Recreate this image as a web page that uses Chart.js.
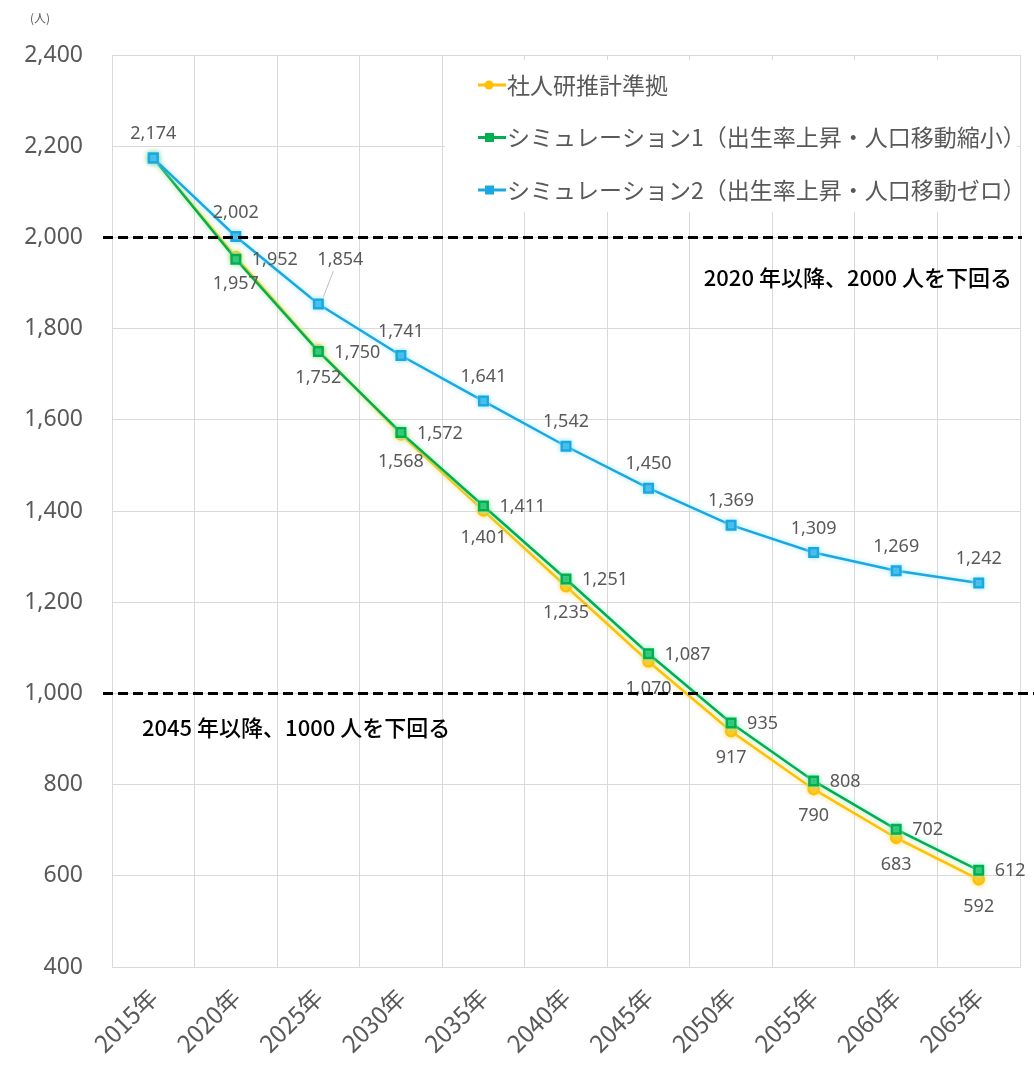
<!DOCTYPE html>
<html lang="ja">
<head>
<meta charset="utf-8">
<script src="https://cdn.jsdelivr.net/npm/chart.js@4.4.1/dist/chart.umd.min.js"></script>
<style>
  html, body { margin: 0; padding: 0; background: #fff; }
  #wrap { width: 1034px; height: 1077px; position: relative; }
</style>
</head>
<body>
<div id="wrap"><canvas id="chart"></canvas></div>
<script>
const years = ['2015年', '2020年', '2025年', '2030年', '2035年', '2040年', '2045年', '2050年', '2055年', '2060年', '2065年'];
const ipssValues = [2174, 1957, 1752, 1568, 1401, 1235, 1070, 917, 790, 683, 592];
const sim1Values = [2174, 1952, 1750, 1572, 1411, 1251, 1087, 935, 808, 702, 612];
const sim2Values = [2174, 2002, 1854, 1741, 1641, 1542, 1450, 1369, 1309, 1269, 1242];
const seriesNames = ['社人研推計準拠', 'シミュレーション1（出生率上昇・人口移動縮小）', 'シミュレーション2（出生率上昇・人口移動ゼロ）'];
const thresholds = [2000, 1000];
const thresholdNotes = ['2020 年以降、2000 人を下回る', '2045 年以降、1000 人を下回る'];
const yTicks = [400, 600, 800, 1000, 1200, 1400, 1600, 1800, 2000, 2200, 2400];
const unitLabel = '(人)';

const FONT = '"Noto Sans CJK JP", "Noto Sans", sans-serif';
const GRAY = '#595959';

// glow under each line, like the office chart it comes from
const lineGlow = {
    id: 'lineGlow',
    beforeDatasetDraw(chart, args) {
        const ds = chart.data.datasets[args.index];
        chart.ctx.save();
        chart.ctx.shadowColor = ds.glowColor;
        chart.ctx.shadowBlur = 5;
    },
    afterDatasetDraw(chart) {
        chart.ctx.restore();
    }
};

// legend box sitting inside the plot, top right
const innerLegend = {
    id: 'innerLegend',
    beforeDatasetsDraw(chart) {
        const ctx = chart.ctx;
        ctx.save();
        ctx.fillStyle = '#fff';
        ctx.fillRect(445, 60, 572, 152);
        ctx.font = '23px ' + FONT;
        ctx.textBaseline = 'middle';
        chart.data.datasets.forEach((ds, i) => {
            const y = 85 + i * 52.5;
            ctx.strokeStyle = ds.borderColor;
            ctx.lineWidth = 3;
            ctx.beginPath();
            ctx.moveTo(478, y);
            ctx.lineTo(506, y);
            ctx.stroke();
            ctx.fillStyle = ds.borderColor;
            if (ds.pointStyle === 'circle') {
                ctx.beginPath();
                ctx.arc(489, y, 4.5, 0, Math.PI * 2);
                ctx.fill();
            } else {
                ctx.fillRect(485, y - 4.5, 9, 9);
            }
            ctx.fillStyle = GRAY;
            ctx.fillText(seriesNames[i], 507, y);
        });
        ctx.restore();
    }
};

// value labels next to the points
const valueLabels = {
    id: 'valueLabels',
    afterDatasetsDraw(chart) {
        const ctx = chart.ctx;
        ctx.save();
        ctx.font = '18px "Noto Sans", sans-serif';
        ctx.fillStyle = GRAY;
        ctx.textBaseline = 'middle';
        chart.data.datasets.forEach((ds, i) => {
            const meta = chart.getDatasetMeta(i);
            meta.data.forEach((pt, j) => {
                if (j === 0 && ds.labelPos !== 'top') return;
                const txt = ds.data[j].toLocaleString('en-US');
                let x = pt.x, y = pt.y;
                if (ds.labelPos === 'top') {
                    ctx.textAlign = 'center';
                    if (j === 2) {
                        // pushed aside with a leader line
                        ctx.strokeStyle = '#bfbfbf';
                        ctx.lineWidth = 1;
                        ctx.beginPath();
                        ctx.moveTo(x + 5, y - 7);
                        ctx.lineTo(x + 15, y - 33);
                        ctx.stroke();
                        x += 22;
                        y -= 44;
                    } else {
                        y -= 24;
                    }
                } else if (ds.labelPos === 'right') {
                    ctx.textAlign = 'left';
                    x += 16;
                    y += 1;
                } else {
                    ctx.textAlign = 'center';
                    y += 27;
                }
                ctx.fillText(txt, x, y);
            });
        });
        ctx.restore();
    }
};

// dashed threshold lines with their notes, plus the unit label
const thresholdLines = {
    id: 'thresholdLines',
    afterDraw(chart) {
        const ctx = chart.ctx;
        const yScale = chart.scales.y;
        const area = chart.chartArea;
        ctx.save();
        ctx.strokeStyle = '#000';
        ctx.lineWidth = 3;
        ctx.setLineDash([10, 5]);
        thresholds.forEach((v, i) => {
            const y = yScale.getPixelForValue(v);
            ctx.beginPath();
            ctx.moveTo(103, y);
            ctx.lineTo(i === 0 ? area.right + 2 : 1034, y);
            ctx.stroke();
        });
        ctx.setLineDash([]);
        ctx.fillStyle = '#000';
        ctx.font = '500 22px ' + FONT;
        ctx.textBaseline = 'middle';
        ctx.textAlign = 'right';
        ctx.fillText(thresholdNotes[0], 1012, yScale.getPixelForValue(thresholds[0]) + 40);
        ctx.textAlign = 'left';
        ctx.fillText(thresholdNotes[1], 142, yScale.getPixelForValue(thresholds[1]) + 34);

        ctx.fillStyle = GRAY;
        ctx.font = '12px ' + FONT;
        ctx.textAlign = 'center';
        ctx.fillText(unitLabel, 40, 18);
        ctx.restore();
    }
};

const ctx = document.getElementById('chart').getContext('2d');
const chart = new Chart(ctx, {
    type: 'line',
    data: {
        labels: years,
        datasets: [
            {
                label: seriesNames[0],
                data: ipssValues,
                borderColor: '#FFC000',
                backgroundColor: '#FFC000',
                glowColor: 'rgba(255, 220, 120, 0.9)',
                pointStyle: 'circle',
                pointRadius: 5,
                borderWidth: 2.5,
                labelPos: 'below',
                order: 2
            },
            {
                label: seriesNames[1],
                data: sim1Values,
                borderColor: '#00B050',
                backgroundColor: '#00B050',
                glowColor: 'rgba(150, 240, 200, 0.9)',
                pointStyle: 'rect',
                pointRadius: 6,
                borderWidth: 2.5,
                labelPos: 'right',
                order: 1
            },
            {
                label: seriesNames[2],
                data: sim2Values,
                borderColor: '#1BA8E0',
                backgroundColor: '#1BA8E0',
                glowColor: 'rgba(150, 230, 255, 0.9)',
                pointStyle: 'rect',
                pointRadius: 6,
                borderWidth: 2.5,
                labelPos: 'top',
                order: 0
            }
        ]
    },
    options: {
        responsive: true,
        maintainAspectRatio: false,
        animation: false,
        layout: { padding: { top: 55, right: 14, left: 0, bottom: 0 } },
        plugins: {
            legend: { display: false },
            tooltip: { enabled: false }
        },
        scales: {
            x: {
                offset: true,
                grid: { offset: true, color: '#d9d9d9', drawTicks: false },
                border: { color: '#d9d9d9' },
                ticks: {
                    color: GRAY,
                    font: { family: FONT, size: 24 },
                    minRotation: 45,
                    maxRotation: 45,
                    padding: 16
                },
                afterFit(scale) { scale.height = 110; }
            },
            y: {
                min: 400,
                max: 2400,
                afterBuildTicks(scale) { scale.ticks = yTicks.map(v => ({ value: v })); },
                grid: { color: '#d9d9d9', drawTicks: false },
                border: { display: false },
                ticks: {
                    color: GRAY,
                    font: { family: '"Noto Sans", sans-serif', size: 23 },
                    padding: 29,
                    callback: v => v.toLocaleString('en-US')
                },
                afterFit(scale) { scale.width = 112; }
            }
        }
    },
    plugins: [lineGlow, innerLegend, valueLabels, thresholdLines]
});
</script>
</body>
</html>
